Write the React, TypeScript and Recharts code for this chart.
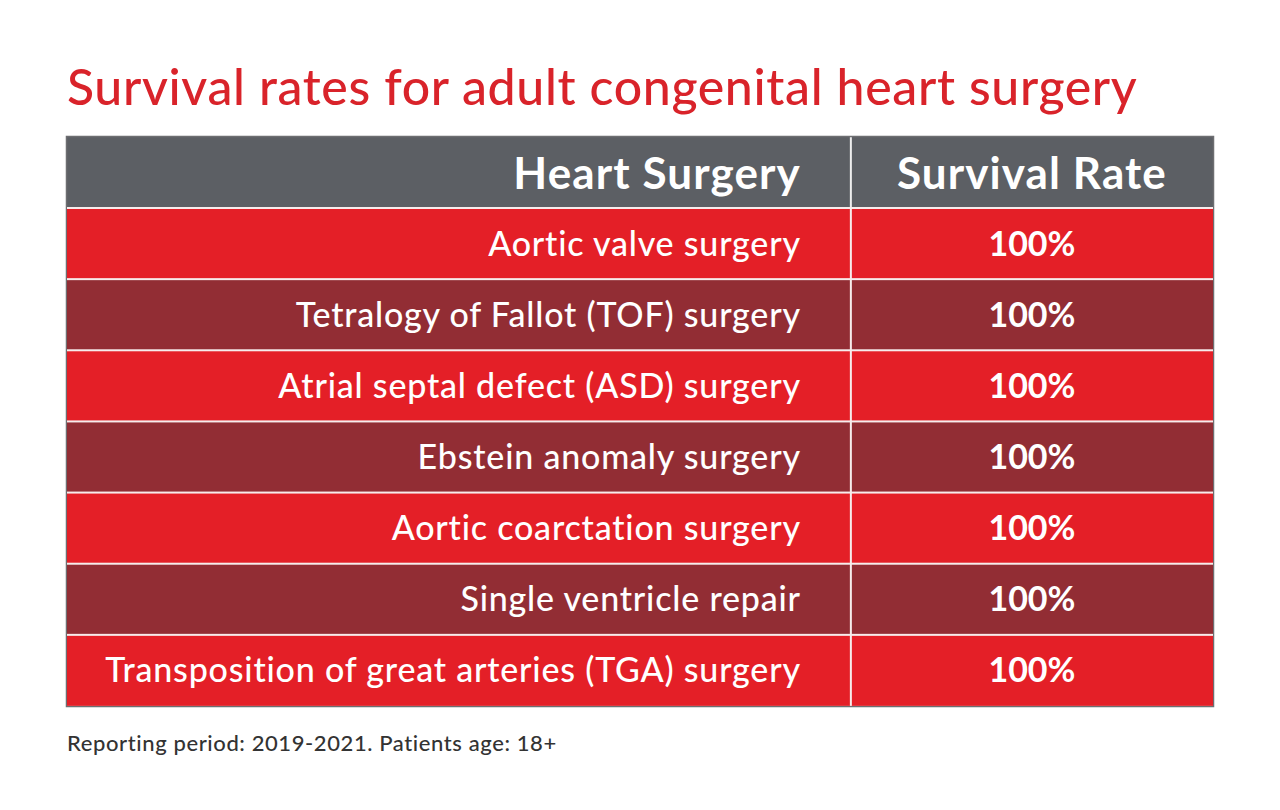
import React from "react";
import { BarChart, Bar, XAxis, YAxis, Cell, LabelList, Customized } from "recharts";

const surgeries = [
  "Aortic valve surgery",
  "Tetralogy of Fallot (TOF) surgery",
  "Atrial septal defect (ASD) surgery",
  "Ebstein anomaly surgery",
  "Aortic coarctation surgery",
  "Single ventricle repair",
  "Transposition of great arteries (TGA) surgery",
];
const survivalRates = [100, 100, 100, 100, 100, 100, 100];
const columnHeaders = ["Heart Surgery", "Survival Rate"];
const titleText = "Survival rates for adult congenital heart surgery";
const footnoteText = "Reporting period: 2019-2021. Patients age: 18+";

const data = surgeries.map((name, i) => ({ name, rate: survivalRates[i] }));

const W = 1280;
const H = 810;
const M = { top: 208, right: 67, bottom: 104, left: 67 };
const HEADER_H = 71;
const SPLIT = 0.684;
const FONT = "Lato, 'Open Sans', sans-serif";
const BRIGHT = "#e41f27";
const DARK = "#922d34";
const GRAY = "#5c5f64";
const BORDER = "#6d6e71";

const RowShape = (props: any) => {
  const { x, y, width, height, fill } = props;
  const divX = x + width * SPLIT;
  return (
    <g>
      <rect x={x} y={y} width={width} height={height} fill={fill} />
      <rect x={x} y={y - 1} width={width} height={2} fill="#f7ecec" />
      <rect x={divX - 1} y={y} width={2} height={height} fill="#f7ecec" />
    </g>
  );
};

const NameLabel = (props: any) => {
  const { x, y, width, height, value } = props;
  const divX = x + width * SPLIT;
  return (
    <text x={divX - 50} y={y + height / 2 + 12} textAnchor="end" fill="#ffffff" fontFamily={FONT} fontSize={34} fontWeight={500} letterSpacing={0.8}>
      {value}
    </text>
  );
};

const RateLabel = (props: any) => {
  const { x, y, width, height, value } = props;
  const divX = x + width * SPLIT;
  const cx = divX + (x + width - divX) / 2;
  return (
    <text x={cx} y={y + height / 2 + 12} textAnchor="middle" fill="#ffffff" fontFamily={FONT} fontSize={34} fontWeight={700}>
      {`${value}%`}
    </text>
  );
};

const Frame = () => {
  const tableW = W - M.left - M.right;
  const top = M.top - HEADER_H;
  const divX = M.left + tableW * SPLIT;
  const bottom = H - M.bottom;
  return (
    <g>
      <text x={M.left} y={105} fill="#d9232a" fontFamily={FONT} fontSize={50} fontWeight={500} letterSpacing={0.65}>
        {titleText}
      </text>
      <rect x={M.left} y={top} width={tableW} height={HEADER_H} fill={GRAY} />
      <rect x={divX - 1} y={top} width={2} height={HEADER_H} fill="#eeeeee" />
      <text x={divX - 50} y={top + 52} textAnchor="end" fill="#ffffff" fontFamily={FONT} fontSize={44} fontWeight={700} letterSpacing={1.1}>
        {columnHeaders[0]}
      </text>
      <text x={divX + (M.left + tableW - divX) / 2} y={top + 52} textAnchor="middle" fill="#ffffff" fontFamily={FONT} fontSize={44} fontWeight={700} letterSpacing={1.1}>
        {columnHeaders[1]}
      </text>
      <rect x={M.left - 0.5} y={top - 0.5} width={tableW + 1} height={bottom - top + 1} fill="none" stroke={BORDER} strokeWidth={1.5} />
      <text x={M.left} y={751} fill="#333333" fontFamily={FONT} fontSize={22} fontWeight={500} letterSpacing={0.6}>
        {footnoteText}
      </text>
    </g>
  );
};

export default function App() {
  return (
    <div style={{ position: "absolute", left: 0, top: 0, width: W, height: H, background: "#ffffff" }}>
      <BarChart width={W} height={H} data={data} layout="vertical" margin={M} barCategoryGap={0}>
        <XAxis type="number" domain={[0, 100]} hide />
        <YAxis type="category" dataKey="name" hide width={0} />
        <Bar dataKey="rate" isAnimationActive={false} shape={<RowShape />}>
          {data.map((d, i) => (
            <Cell key={d.name} fill={i % 2 === 0 ? BRIGHT : DARK} />
          ))}
          <LabelList dataKey="name" content={<NameLabel />} />
          <LabelList dataKey="rate" content={<RateLabel />} />
        </Bar>
        <Customized component={<Frame />} />
      </BarChart>
    </div>
  );
}
